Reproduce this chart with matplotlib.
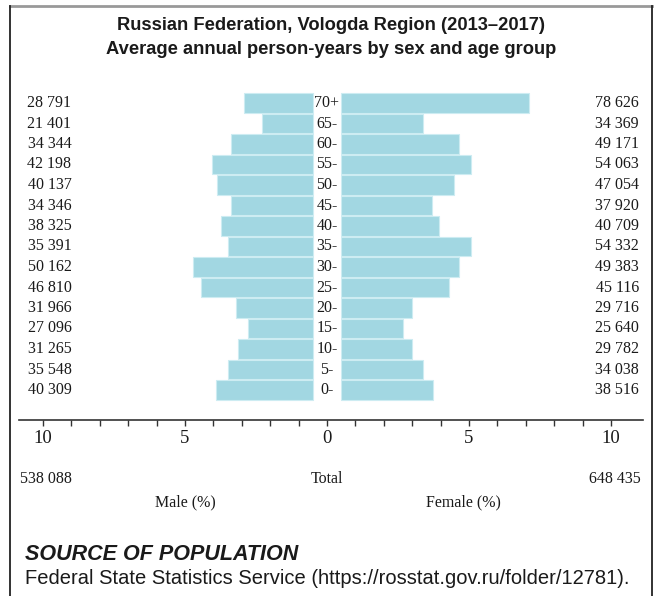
"""Population pyramid for the Vologda Region, 2013-2017 person-years."""

import matplotlib.pyplot as plt
from matplotlib.lines import Line2D
from matplotlib.transforms import blended_transform_factory

ages = ["0-", "5-", "10-", "15-", "20-", "25-", "30-", "35-", "40-",
        "45-", "50-", "55-", "60-", "65-", "70+"]
male = [40309, 35548, 31265, 27096, 31966, 46810, 50162, 35391, 38325,
        34346, 40137, 42198, 34344, 21401, 28791]
female = [38516, 34038, 29782, 25640, 29716, 45116, 49383, 54332, 40709,
          37920, 47054, 54063, 49171, 34369, 78626]
male_total = 538088
female_total = 648435

grand = male_total + female_total
male_pct = [m / grand * 100 for m in male]
female_pct = [f / grand * 100 for f in female]


def fmt(n):
    return f"{n:,}".replace(",", " ")


serif = "Liberation Serif"
sans = "Liberation Sans"
ink = "#1a1a1a"
bar_col = "#a2d7e2"
edge_col = "#cdecf2"
gap = 0.5

W, H = 654, 596
fig = plt.figure(figsize=(W / 100, H / 100), dpi=100)

# axes placed in pixel terms: 0 at x=327, 28.4 px per percent
x0, ppu = 327, 28.4
ax_l, ax_r = 19, 643
row0, rstep = 390, 20.5
ax_b, ax_t = 420, 88
ax = fig.add_axes([ax_l / W, 1 - ax_b / H, (ax_r - ax_l) / W, (ax_b - ax_t) / H])
ax.set_xlim((ax_l - x0) / ppu, (ax_r - x0) / ppu)
ax.set_ylim((row0 - ax_b) / rstep, (row0 - ax_t) / rstep)

rows = list(range(len(ages)))
ax.barh(rows, [-p for p in male_pct], left=-gap, height=0.95,
        color=bar_col, edgecolor=edge_col, linewidth=0.8)
ax.barh(rows, female_pct, left=gap, height=0.95,
        color=bar_col, edgecolor=edge_col, linewidth=0.8)

for r, a, m, f in zip(rows, ages, male, female):
    ax.text(0, r, a, ha="center", va="center", fontsize=11.5, family=serif,
            color=ink)
    ax.text(-9.0, r, fmt(m), ha="right", va="center", fontsize=11.5,
            family=serif, color=ink)
    ax.text(10.99, r, fmt(f), ha="right", va="center", fontsize=11.5,
            family=serif, color=ink)

for side in ["top", "left", "right"]:
    ax.spines[side].set_visible(False)
ax.spines["bottom"].set_color("#333333")
ax.spines["bottom"].set_linewidth(1.2)
ax.set_yticks([])
ticks = list(range(-10, 11))
ax.set_xticks(ticks)
ax.set_xticklabels([str(abs(t)) if t % 5 == 0 else "" for t in ticks],
                   family=serif, fontsize=13.5, color=ink)
ax.tick_params(axis="x", length=4, width=1, color="#333333", pad=3)

tr = blended_transform_factory(ax.transData, fig.transFigure)
ax.text(-9.0, 1 - 479 / H, fmt(male_total), transform=tr, ha="right",
        va="center", fontsize=11.5, family=serif, color=ink)
ax.text(0, 1 - 479 / H, "Total", transform=tr, ha="center",
        va="center", fontsize=11.5, family=serif, color=ink)
ax.text(11.06, 1 - 479 / H, fmt(female_total), transform=tr, ha="right",
        va="center", fontsize=11.5, family=serif, color=ink)
ax.text(-5.0, 1 - 502 / H, "Male (%)", transform=tr, ha="center",
        va="center", fontsize=11.5, family=serif, color=ink)
ax.text(4.8, 1 - 502 / H, "Female (%)", transform=tr, ha="center",
        va="center", fontsize=11.5, family=serif, color=ink)

fig.text(331 / W, 1 - 25 / H, "Russian Federation, Vologda Region (2013–2017)",
         ha="center", va="center", fontsize=13.2, fontweight="bold",
         family=sans, color=ink)
fig.text(331 / W, 1 - 49 / H, "Average annual person-years by sex and age group",
         ha="center", va="center", fontsize=13.2, fontweight="bold",
         family=sans, color=ink)

fig.text(25 / W, 1 - 555 / H, "SOURCE OF POPULATION", ha="left", va="center",
         fontsize=15.5, fontweight="bold", fontstyle="italic", family=sans,
         color=ink)
fig.text(25 / W, 1 - 579 / H,
         "Federal State Statistics Service (https://rosstat.gov.ru/folder/12781).",
         ha="left", va="center", fontsize=14.5, family=sans, color=ink)

# frame around the panel: grey top rule, dark side rules
fig.add_artist(Line2D([10 / W, 652 / W], [1 - 6 / H, 1 - 6 / H],
                      transform=fig.transFigure, color="#999999", lw=2))
fig.add_artist(Line2D([10 / W, 10 / W], [0, 1 - 6 / H],
                      transform=fig.transFigure, color="#222222", lw=1.3))
fig.add_artist(Line2D([652 / W, 652 / W], [0, 1 - 6 / H],
                      transform=fig.transFigure, color="#222222", lw=1.3))

fig.savefig("out.png", dpi=100)
